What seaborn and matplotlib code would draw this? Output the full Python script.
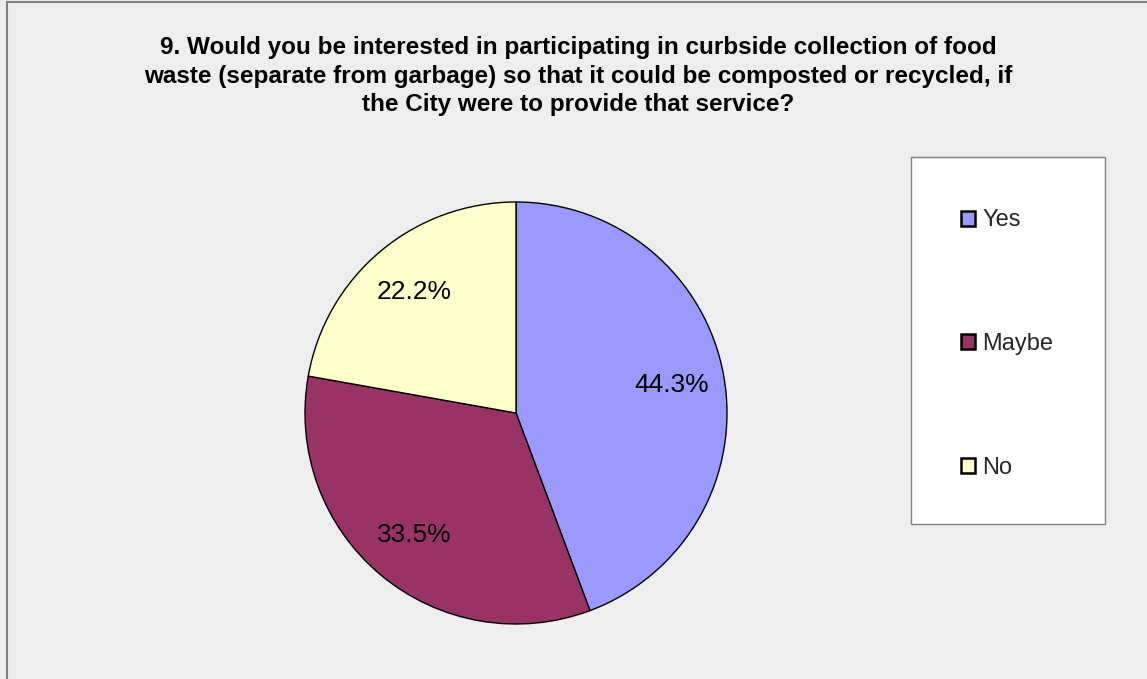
import matplotlib
matplotlib.use("Agg")
import matplotlib.pyplot as plt
import matplotlib.patches as mpatches
import seaborn as sns

# Survey responses (percent)
categories = ["Yes", "Maybe", "No"]
shares = [44.3, 33.5, 22.2]
colors = ["#9999FF", "#993366", "#FFFFCC"]
title_text = ("9. Would you be interested in participating in curbside collection of food\n"
              "waste (separate from garbage) so that it could be composted or recycled, if\n"
              "the City were to provide that service?")

sns.set_theme(style="white")
plt.rcParams["font.family"] = ["Liberation Sans", "DejaVu Sans"]

W, H = 1147, 679
fig = plt.figure(figsize=(W / 100, H / 100), dpi=100)
fig.patch.set_facecolor("#EEEEEE")

def fx(px):
    return px / W

def fy(py):
    return 1 - py / H

# outer chart border (right and bottom edges fall outside the canvas)
fig.patches.append(mpatches.Rectangle((fx(6.5), fy(H + 20)), 1.2, fy(1.5) - fy(H + 20),
                                      transform=fig.transFigure, facecolor="none",
                                      edgecolor="#808080", linewidth=1.5))

# title
fig.text(fx(578), fy(76), title_text, ha="center", va="center", fontsize=17.5,
         fontweight="bold", linespacing=1.3, color="black")

# pie
cx, cy, r = 516, 413, 211
ax = fig.add_axes([fx(cx - r), fy(cy + r), (2 * r) / W, (2 * r) / H])
ax.set_facecolor("none")
wedges, texts, autotexts = ax.pie(
    shares, colors=colors, startangle=90, counterclock=False,
    autopct="%.1f%%", pctdistance=0.75,
    wedgeprops=dict(edgecolor="black", linewidth=1.0),
    textprops=dict(fontsize=19, color="black"),
)
ax.set_xlim(-1, 1)
ax.set_ylim(-1, 1)
ax.set_aspect("equal")
ax.axis("off")

# legend box
fig.patches.append(mpatches.Rectangle((fx(911), fy(524)), fx(1105) - fx(911), fy(157) - fy(524),
                                      transform=fig.transFigure, facecolor="white",
                                      edgecolor="#808080", linewidth=1.0, zorder=1))
handles = [mpatches.Patch(facecolor=c, edgecolor="black", linewidth=1.8, label=l)
           for c, l in zip(colors, categories)]
leg = fig.legend(handles=handles, loc="center left", bbox_to_anchor=(fx(949), fy(344)),
                 frameon=False, fontsize=17, handlelength=0.6, handleheight=0.6,
                 handletextpad=0.3, labelspacing=4.3, borderpad=0)
leg.set_zorder(2)

fig.savefig("out.png", dpi=100, facecolor=fig.get_facecolor())
